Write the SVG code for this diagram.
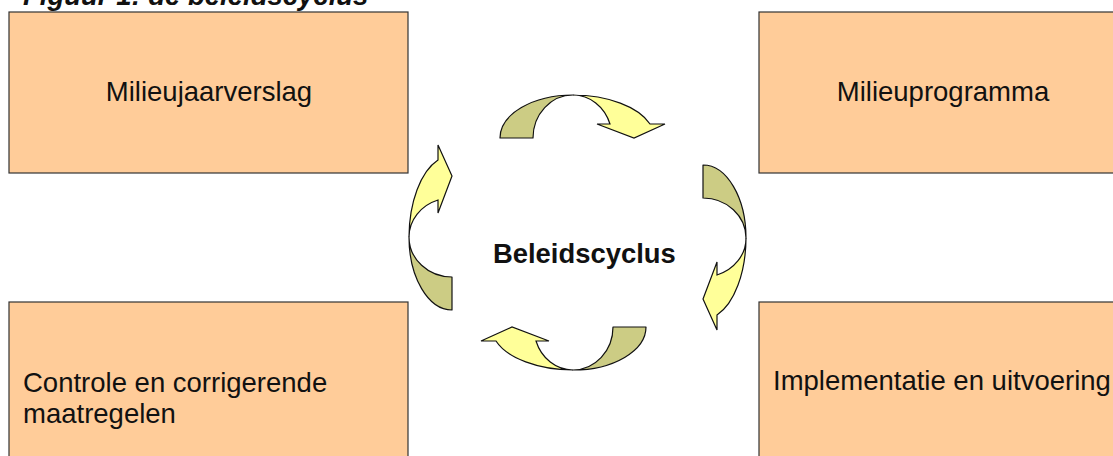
<svg xmlns="http://www.w3.org/2000/svg" xmlns:xlink="http://www.w3.org/1999/xlink" width="1113" height="456" viewBox="0 0 1113 456">
<style>
.box{fill:#FFCC99;stroke:#333333;stroke-width:1.2}
.lbl{font-family:"Liberation Sans",Arial,sans-serif;font-size:27.5px;fill:#111111}
.title{font-family:"Liberation Sans",Arial,sans-serif;font-size:27.5px;font-weight:bold;font-style:italic;fill:#111111}
.center{font-family:"Liberation Sans",Arial,sans-serif;font-size:27.4px;font-weight:bold;fill:#111111}
.back{fill:#CCCC84;stroke:#111111;stroke-width:1.2;stroke-linejoin:round}
.front{fill:#FFFF99;stroke:#111111;stroke-width:1.2;stroke-linejoin:miter}
</style>
<defs>
<g id="arrow">
<path class="back" d="M500,138 A73,43 0 0 1 573,95 A40,43 0 0 0 533,138 Z"/>
<path class="front" d="M573,95 A82,43 0 0 1 650,124 L665,124 L634,138 L597,124 L610,124 A39,43 0 0 0 573,95 Z"/>
</g>
</defs>
<rect width="1113" height="456" fill="#FFFFFF"/>
<text class="title" x="23" y="5">Figuur 1: de beleidscyclus</text>
<g id="node-milieujaarverslag">
<rect class="box" x="9" y="12" width="399" height="161"/>
<text class="lbl" x="209" y="101" text-anchor="middle">Milieujaarverslag</text>
</g>
<g id="node-milieuprogramma">
<rect class="box" x="759" y="12" width="360" height="161"/>
<text class="lbl" x="943" y="101" text-anchor="middle">Milieuprogramma</text>
</g>
<g id="node-controle">
<rect class="box" x="9" y="302" width="399" height="170"/>
<text class="lbl" x="23" y="392">Controle en corrigerende</text>
<text class="lbl" x="23" y="423">maatregelen</text>
</g>
<g id="node-implementatie">
<rect class="box" x="759" y="302" width="360" height="170"/>
<text class="lbl" x="773" y="390">Implementatie en uitvoering</text>
</g>
<g id="node-beleidscyclus">
<text class="center" x="493" y="263">Beleidscyclus</text>
</g>
<g id="connectors">
<use xlink:href="#arrow"/>
<use xlink:href="#arrow" transform="matrix(0,1,-1,0,841,-335)"/>
<use xlink:href="#arrow" transform="matrix(-1,0,0,-1,1146,465)"/>
<use xlink:href="#arrow" transform="matrix(0,-1,1,0,314,810)"/>
</g>
</svg>
